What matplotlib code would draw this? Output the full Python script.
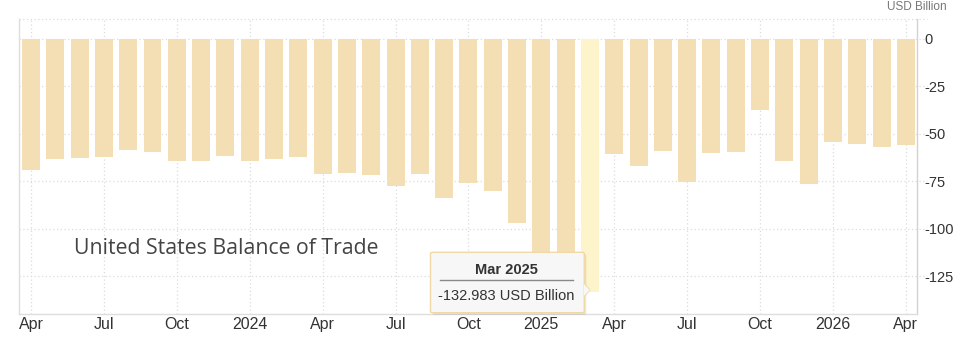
import matplotlib
matplotlib.use("Agg")
import matplotlib.pyplot as plt
from matplotlib.patches import FancyBboxPatch, Polygon
from matplotlib.lines import Line2D

# ---------------- data ----------------
months = ["Apr 2023", "May 2023", "Jun 2023", "Jul 2023", "Aug 2023", "Sep 2023",
          "Oct 2023", "Nov 2023", "Dec 2023", "Jan 2024", "Feb 2024", "Mar 2024",
          "Apr 2024", "May 2024", "Jun 2024", "Jul 2024", "Aug 2024", "Sep 2024",
          "Oct 2024", "Nov 2024", "Dec 2024", "Jan 2025", "Feb 2025", "Mar 2025",
          "Apr 2025", "May 2025", "Jun 2025", "Jul 2025", "Aug 2025", "Sep 2025",
          "Oct 2025", "Nov 2025", "Dec 2025", "Jan 2026", "Feb 2026", "Mar 2026",
          "Apr 2026"]
balance = [-69.0, -63.3, -62.7, -62.2, -58.5, -59.6,
           -64.3, -64.3, -61.7, -64.3, -63.3, -62.2,
           -71.2, -70.6, -71.7, -77.5, -71.2, -83.8,
           -75.9, -80.1, -96.7, -128.0, -123.0, -132.983,
           -60.6, -66.9, -59.1, -75.3, -60.1, -59.6,
           -37.6, -64.3, -76.4, -54.3, -55.4, -57.0,
           -56.0]
xtick_months = ["Apr 2023", "Jul 2023", "Oct 2023", "Jan 2024", "Apr 2024", "Jul 2024",
                "Oct 2024", "Jan 2025", "Apr 2025", "Jul 2025", "Oct 2025", "Jan 2026",
                "Apr 2026"]
xtick_labels = ["Apr", "Jul", "Oct", "2024", "Apr", "Jul", "Oct", "2025", "Apr", "Jul",
                "Oct", "2026", "Apr"]
ytick_values = [0, -25, -50, -75, -100, -125]
highlight_month = "Mar 2025"
title = "United States Balance of Trade"
unit = "USD Billion"

# ---------------- figure ----------------
W, H = 954, 344
fig = plt.figure(figsize=(W / 100, H / 100), dpi=100)
fig.patch.set_facecolor("white")

def fx(px):
    return px / W

def fy(py):
    return 1 - py / H

ax_left, ax_right, ax_top, ax_bottom = 19.5, 917.3, 18.7, 314.0
ax = fig.add_axes([fx(ax_left), fy(ax_bottom), fx(ax_right - ax_left), (ax_bottom - ax_top) / H])
ax.set_facecolor("white")

x = list(range(len(months)))
colors = ["#fdf4cc" if m == highlight_month else "#f4deb3" for m in months]
ax.bar(x, balance, width=0.74, color=colors, zorder=2)

ax.set_xlim(-0.473, len(months) - 1 + 0.47)
ax.set_ylim(-144.7, 10.4)

# gridlines
grid_col = "#dcdcdc"
xt = [months.index(m) for m in xtick_months]
for xv in xt:
    ax.axvline(xv, color=grid_col, lw=0.9, ls=(0, (1, 2)), zorder=1)
for yv in ytick_values + [10.4]:
    ax.axhline(yv, xmin=0, xmax=1.011, color=grid_col, lw=0.9, ls=(0, (1, 2)),
               zorder=1, clip_on=False)

ax.spines["top"].set_visible(False)
for s in ["left", "bottom", "right"]:
    ax.spines[s].set_color("#dedede")
    ax.spines[s].set_linewidth(1.0)
ax.spines["right"].set_color("#d2d2d2")

ax.set_xticks(xt)
ax.set_xticklabels(xtick_labels, fontfamily="Liberation Sans", fontsize=11.5, color="#333333")
ax.set_yticks(ytick_values)
ax.set_yticklabels([str(v) for v in ytick_values], fontfamily="Liberation Sans",
                   fontsize=10.5, color="#333333")
ax.yaxis.tick_right()
ax.tick_params(axis="both", length=0)
ax.tick_params(axis="x", pad=2)
ax.tick_params(axis="y", pad=5)

# unit label (top right)
fig.text(fx(947), fy(0.5), unit, ha="right", va="top", fontfamily="Liberation Sans",
         fontsize=8.5, color="#777777")

# title inside chart
fig.text(fx(226), fy(249), title, ha="center", va="center", fontfamily="Open Sans",
         fontsize=15.3, color="#444444")

# tooltip
hi = months.index(highlight_month)
val = balance[hi]
bx0, by0, bx1, by1 = 430.5, 252.3, 584.3, 312.7
shadow = FancyBboxPatch((fx(bx0 + 2), fy(by1 + 2)), fx(bx1 - bx0), (by1 - by0) / H,
                        boxstyle="round,pad=0,rounding_size=0.003",
                        transform=fig.transFigure, facecolor="#00000018",
                        edgecolor="none", zorder=5)
fig.patches.append(shadow)
box = FancyBboxPatch((fx(bx0), fy(by1)), fx(bx1 - bx0), (by1 - by0) / H,
                     boxstyle="round,pad=0,rounding_size=0.003",
                     transform=fig.transFigure, facecolor="#f7f7f7",
                     edgecolor="#f0d9a6", lw=1.0, zorder=6)
fig.patches.append(box)
arrow = Polygon([(fx(bx1 - 0.5), fy(284)), (fx(bx1 + 5.5), fy(290)), (fx(bx1 - 0.5), fy(296))],
                closed=True, transform=fig.transFigure, facecolor="#f7f7f7",
                edgecolor="none", zorder=7)
fig.patches.append(arrow)
fig.lines.append(Line2D([fx(bx1), fx(bx1 + 5.5), fx(bx1)], [fy(284), fy(290), fy(296)],
                        transform=fig.transFigure, color="#f0d9a6", lw=1.0, zorder=7))
fig.lines.append(Line2D([fx(440), fx(573)], [fy(280.3), fy(280.3)],
                        transform=fig.transFigure, color="#888888", lw=1.0, zorder=8))
fig.text(fx(506.5), fy(270), highlight_month, ha="center", va="center",
         fontfamily="Liberation Sans", fontweight="bold", fontsize=10.5, color="#333333",
         zorder=9)
fig.text(fx(506.5), fy(296), f"{val:.3f} {unit}", ha="center", va="center",
         fontfamily="Liberation Sans", fontsize=10.5, color="#333333", zorder=9)

fig.savefig("out.png", dpi=100, facecolor="white")
